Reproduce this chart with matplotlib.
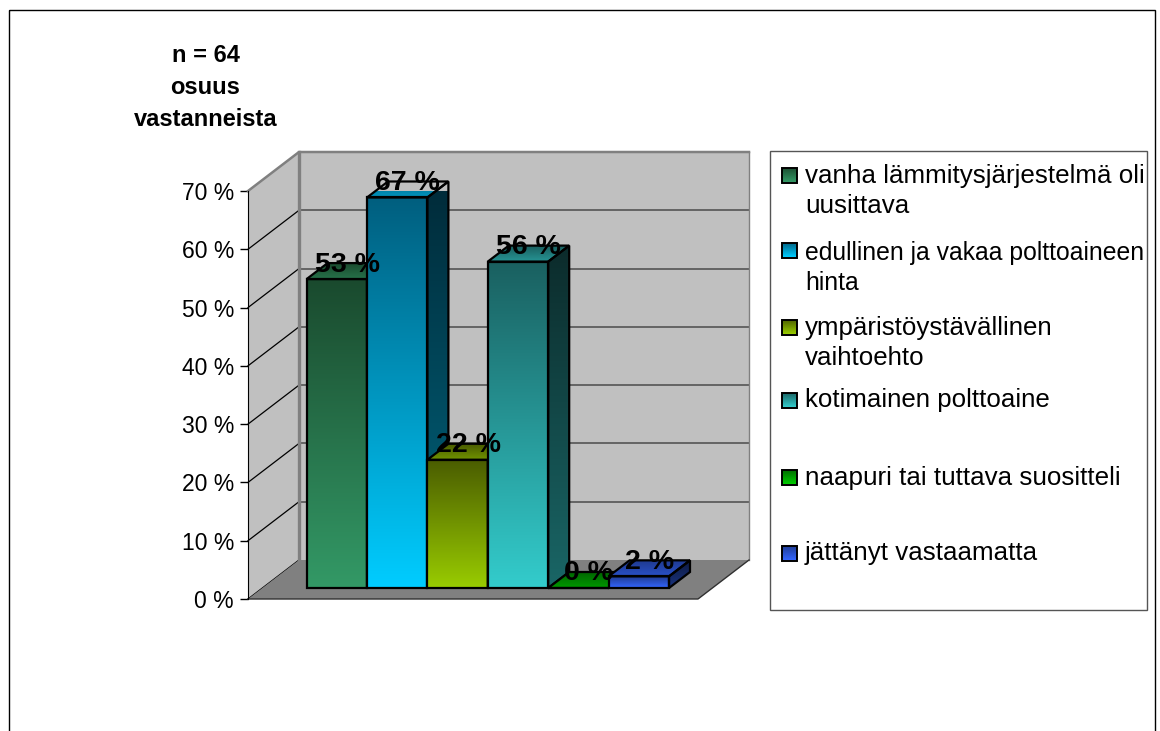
import numpy as np
import matplotlib
matplotlib.use('Agg')
import matplotlib.pyplot as plt
from matplotlib.colors import LinearSegmentedColormap, to_rgb
from matplotlib.patches import Polygon, Rectangle

plt.rcParams['font.family'] = ['Liberation Sans', 'DejaVu Sans']

labels = ['vanha lämmitysjärjestelmä oli\nuusittava',
          'edullinen ja vakaa polttoaineen\nhinta',
          'ympäristöystävällinen\nvaihtoehto',
          'kotimainen polttoaine',
          'naapuri tai tuttava suositteli',
          'jättänyt vastaamatta']
values = [53, 67, 22, 56, 0, 2]
yticks = [0, 10, 20, 30, 40, 50, 60, 70]
title_lines = ['n = 64', 'osuus', 'vastanneista']

# gradient colours: dark end, light end
dark = ['#1a4a2e', '#005f7f', '#4a5c00', '#1a6060', '#006600', '#1f3a8f']
light = ['#339966', '#00ccff', '#99cc00', '#33cccc', '#00cc00', '#3366ff']
legend_y = [175, 250, 327, 400, 477, 553]
legend_text_y = [191, 268, 343, 400, 478, 553]
legend_size = [18.7, 17.8, 18.6, 18.6, 18.7, 18.7]

W, H = 1160, 731
fig = plt.figure(figsize=(W / 100, H / 100), dpi=100)

# main axes sits on the front plane of the 3d box
ax = fig.add_axes([248 / W, (H - 599) / H, 450 / W, 408 / H])
BAR_PX = 60.4
DX = 1 / BAR_PX
DY = 70 / 408
ax.set_xlim(-43.6 * DX, -43.6 * DX + 450 * DX)
ax.set_ylim(0, 70)
x0, x1 = ax.get_xlim()


def shade(color, f=0.5):
    return tuple(np.array(to_rgb(color)) * f)


def mix(c1, c2):
    return tuple((np.array(to_rgb(c1)) + np.array(to_rgb(c2))) / 2)


def grad(a, verts, c_start, c_end, z):
    # vertical gradient, c_start on top
    xs = [v[0] for v in verts]
    ys = [v[1] for v in verts]
    if max(ys) - min(ys) < 1e-6:
        return
    cmap = LinearSegmentedColormap.from_list('g', [c_start, c_end])
    img = a.imshow(np.linspace(0, 1, 128).reshape(-1, 1), cmap=cmap, aspect='auto', origin='upper',
                   extent=[min(xs), max(xs), min(ys), max(ys)], zorder=z, interpolation='bilinear')
    img.set_clip_path(Polygon(verts, transform=a.transData))


# box walls and floor
wx = 51 * DX
wy = 39 * DY
ax.add_patch(Polygon([(x0, 0), (x0 + wx, wy), (x0 + wx, 70 + wy), (x0, 70)], closed=True, fc='#c0c0c0',
                     ec='none', zorder=1, clip_on=False))
ax.add_patch(Polygon([(x0 + wx, wy), (x1 + wx, wy), (x1 + wx, 70 + wy), (x0 + wx, 70 + wy)], closed=True,
                     fc='#c0c0c0', ec='none', zorder=1, clip_on=False))
ax.add_patch(Polygon([(x0, 0), (x1, 0), (x1 + wx, wy), (x0 + wx, wy)], closed=True, fc='#808080',
                     ec='none', zorder=2, clip_on=False))
for t in yticks[1:-1]:
    ax.plot([x0 + wx, x1 + wx], [t + wy, t + wy], color='#555555', lw=1.2, zorder=1.5, clip_on=False)
for t in yticks[:-1]:
    ax.plot([x0, x0 + wx], [t, t + wy], color='black', lw=0.9, zorder=1.5, clip_on=False)
ax.plot([x0, x0 + wx, x1 + wx], [70, 70 + wy, 70 + wy], color='#808080', lw=1.8, zorder=1.6, clip_on=False)
ax.plot([x0 + wx, x0 + wx], [wy, 70 + wy], color='#808080', lw=2.4, zorder=1.6, clip_on=False)
ax.plot([x1 + wx, x1 + wx], [wy, 70 + wy], color='#808080', lw=1, zorder=1.6, clip_on=False)
ax.plot([x0, x1, x1 + wx], [0, 0, wy], color='#303030', lw=1, zorder=2.5, clip_on=False)

# bars, painted left to right
off_x = 15 * DX
off_y = 11 * DY
dep_x = 21 * DX
dep_y = 16 * DY
for i, v in enumerate(values):
    z = 10 + i
    l = i + off_x
    r = i + 1 + off_x
    b = off_y
    t = v + off_y
    front = [(l, b), (r, b), (r, t), (l, t)]
    side = [(r, b), (r + dep_x, b + dep_y), (r + dep_x, t + dep_y), (r, t)]
    top = [(l, t), (r, t), (r + dep_x, t + dep_y), (l + dep_x, t + dep_y)]
    grad(ax, side, shade(dark[i], 0.45), shade(light[i], 0.5), z)
    grad(ax, top, dark[i], mix(dark[i], light[i]), z)
    grad(ax, front, dark[i], light[i], z)
    for poly in (side, top, front):
        ax.add_patch(Polygon(poly, closed=True, fill=False, ec='black', lw=1.6, zorder=z + 0.5, clip_on=False))
    ax.annotate(f'{v} %', (i + 0.5 + off_x, t), xytext=(7.5, 10.5), textcoords='offset points', ha='center',
                va='center', fontsize=20.5, fontweight='bold', color='black', zorder=50, annotation_clip=False)

ax.set_xlim(x0, x1)
ax.set_ylim(0, 70)
ax.set_xticks([])
ax.set_yticks(yticks)
ax.set_yticklabels([f'{t} %' for t in yticks], fontsize=16.5)
ax.tick_params(axis='y', length=6, width=1, pad=4)
for s in ['top', 'right', 'bottom']:
    ax.spines[s].set_visible(False)
ax.spines['left'].set_zorder(5)
ax.patch.set_visible(False)

# overlay in pixel coordinates: frame, title, legend
ov = fig.add_axes([0, 0, 1, 1], zorder=-1)
ov.axis('off')
ov.add_patch(Rectangle((9, 10), 1146, 800, fill=False, ec='black', lw=1))
for txt, yy in zip(title_lines, [55, 87, 119]):
    ov.text(205.5, yy, txt, ha='center', va='center', fontsize=17, fontweight='bold')
ov.add_patch(Rectangle((770, 151), 377, 459, fc='white', ec='#555555', lw=1))
for i, lab in enumerate(labels):
    my = legend_y[i]
    sq = [(782, my - 7.5), (797, my - 7.5), (797, my + 7.5), (782, my + 7.5)]
    grad(ov, sq, light[i], dark[i], 3)
    ov.add_patch(Polygon(sq, closed=True, fill=False, ec='black', lw=1.4, zorder=4))
    ov.text(805, legend_text_y[i], lab, ha='left', va='center', fontsize=legend_size[i], linespacing=1.35, zorder=4)
ov.set_xlim(0, W)
ov.set_ylim(H, 0)

fig.savefig('out.png', dpi=100, facecolor='white')
